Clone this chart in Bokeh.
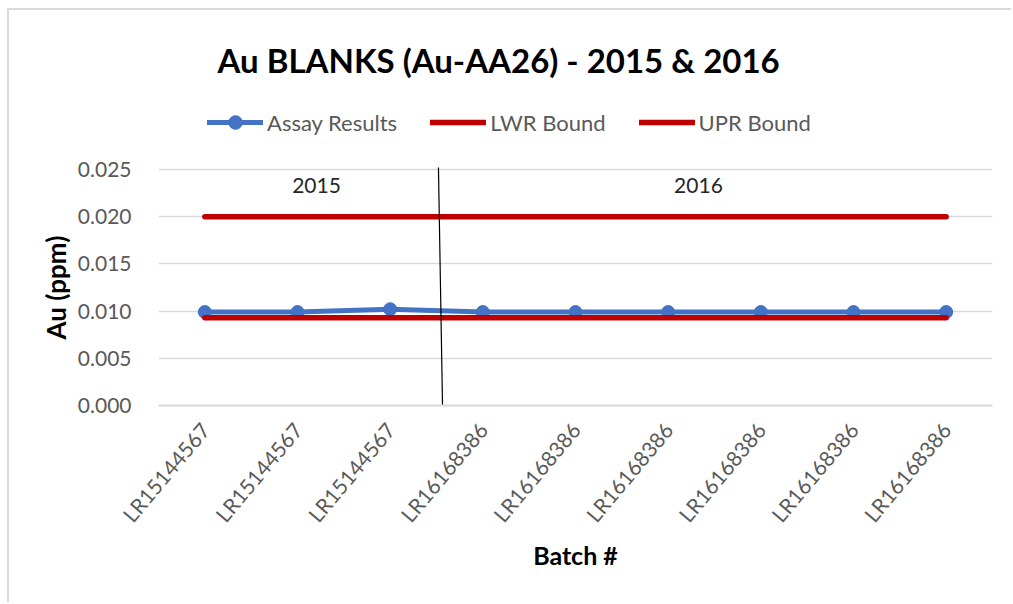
import math
from bokeh.plotting import figure
from bokeh.models import (ColumnDataSource, Range1d, FixedTicker, Legend, LegendItem,
                          Label, Title)
from bokeh.embed import file_html
from bokeh.resources import INLINE

# ---- data ----
batches = ["LR15144567", "LR15144567", "LR15144567",
           "LR16168386", "LR16168386", "LR16168386",
           "LR16168386", "LR16168386", "LR16168386"]
assay_results = [0.0099, 0.0099, 0.0102, 0.0099, 0.0099, 0.0099, 0.0099, 0.0099, 0.0099]
lwr_bound = [0.0093] * 9
upr_bound = [0.0200] * 9
y_ticks = [0.000, 0.005, 0.010, 0.015, 0.020, 0.025]
year_labels = ["2015", "2016"]
title_text = "Au BLANKS (Au-AA26) - 2015 & 2016"

idx = list(range(len(batches)))
src = ColumnDataSource(dict(x=idx, assay=assay_results, lwr=lwr_bound, upr=upr_bound))

FONT = "Lato"
GRAY = "#595959"
# frame extends up to the top so that title/legend can live inside it
Y_AXIS_MAX = 0.025
Y_VIEW_TOP = Y_AXIS_MAX * (405 - 10) / 236.0

p = figure(width=1004, height=594, output_backend="svg", toolbar_location=None,
           x_range=Range1d(-0.5, len(batches) - 0.5), y_range=Range1d(0, Y_VIEW_TOP),
           min_border_left=149, min_border_right=21, min_border_top=0,
           min_border_bottom=199)
p.styles = {"border-left": "2px solid #d9d9d9", "border-top": "2px solid #d9d9d9",
            "margin-left": "7px", "margin-top": "8px"}
p.outline_line_color = None
p.background_fill_color = "white"

# axes
p.xaxis.ticker = FixedTicker(ticks=idx)
p.xaxis.major_label_overrides = {i: b for i, b in enumerate(batches)}
p.xaxis.major_label_orientation = math.radians(50)
p.yaxis.ticker = FixedTicker(ticks=y_ticks)
p.yaxis.major_label_overrides = {t: f"{t:.3f}" for t in y_ticks}
for ax in (p.xaxis, p.yaxis):
    ax.major_tick_line_color = None
    ax.minor_tick_line_color = None
    ax.major_label_text_font = FONT
    ax.major_label_text_font_size = "21px"
    ax.major_label_text_color = GRAY
    ax.axis_label_text_font = FONT
    ax.axis_label_text_font_style = "bold"
    ax.axis_label_text_font_size = "25px"
    ax.axis_label_text_color = "black"
p.yaxis.axis_line_color = None
p.xaxis.axis_line_color = "#d9d9d9"
p.xaxis.axis_line_width = 2
p.yaxis.major_label_standoff = 21
p.xaxis.major_label_standoff = 14
p.xaxis.axis_label = "Batch #"
p.xaxis.axis_label_standoff = 2

# y-axis title, placed along the 0..0.025 part of the axis
p.add_layout(Title(text="Au (ppm)", align="left", offset=66, text_font=FONT,
                   text_font_style="bold", text_font_size="26px",
                   text_color="black", standoff=5), "left")

p.xgrid.grid_line_color = None
p.ygrid.ticker = FixedTicker(ticks=y_ticks)
p.ygrid.grid_line_color = "#d9d9d9"
p.ygrid.grid_line_width = 1.5

# series
r_line = p.line("x", "assay", source=src, line_color="#4472C4", line_width=5,
                line_cap="round", line_join="round")
r_mark = p.scatter("x", "assay", source=src, size=13, fill_color="#4472C4",
                   line_color="#4472C4")
r_lwr = p.line("x", "lwr", source=src, line_color="#C00000", line_width=5.5,
               line_cap="round")
r_upr = p.line("x", "upr", source=src, line_color="#C00000", line_width=5.5,
               line_cap="round")

# divider between years
p.segment(x0=[2.521], y0=[0.0252], x1=[2.565], y1=[0.0], line_color="black",
          line_width=1.2)

for xpos, txt in zip([1.205, 5.327], year_labels):
    p.add_layout(Label(x=xpos, y=0.0233, text=txt, text_align="center",
                       text_baseline="middle", text_font=FONT,
                       text_font_size="21px", text_color="#262626"))

legend = Legend(items=[LegendItem(label="Assay Results", renderers=[r_line, r_mark]),
                       LegendItem(label="LWR Bound", renderers=[r_lwr]),
                       LegendItem(label="UPR Bound", renderers=[r_upr])],
                orientation="horizontal", location=(49, 266),
                label_text_font=FONT, label_text_font_size="22px",
                label_text_color=GRAY, glyph_width=56, glyph_height=34,
                label_standoff=4, spacing=33, padding=0, margin=0,
                border_line_color=None, background_fill_alpha=0)
p.add_layout(legend, "center")

p.add_layout(Label(x=0.137, y=0.03655, text=title_text, text_align="left",
                   text_baseline="middle", text_font=FONT, text_font_style="bold",
                   text_font_size="33px", text_color="black"))

open("out.html", "w").write(file_html(p, INLINE))
